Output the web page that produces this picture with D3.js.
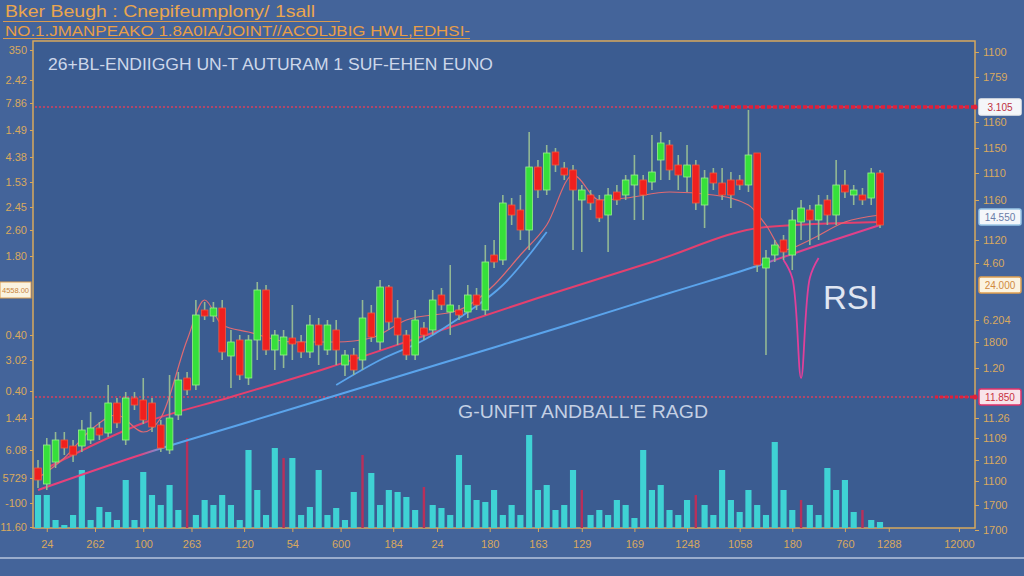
<!DOCTYPE html>
<html lang="en">
<head>
<meta charset="UTF-8">
<title>Candlestick chart</title>
<script src="https://d3js.org/d3.v7.min.js"></script>
<style>
  body { margin: 0; background: #44649a; overflow: hidden; }
  svg { display: block; }
  .axis text { font-family: "Liberation Sans Narrow", "Liberation Sans", Arial, sans-serif; font-size: 11px; fill: #d9a95e; }
  .axis line { stroke: #d7a85c; }
  .axis path { display: none; }
</style>
</head>
<body>
<script>
// candle data (97 sessions)
const opens  = [60,44,66,88,82,82,88,100,95,125, 88,130,128,125,103,78,113,150,143,218, 212,220,172,188,150,188,238,178,173,190, 186,176,203,178,198,163,173,168,215,186, 241,210,193,173,200,198,233,216,218,216, 233,218,273,268,323,318,298,361,338,376, 360,358,328,333,328,313,336,333,343,348, 346,368,383,363,351,363,323,355,345,348, 348,343,375,260,273,288,273,306,318,308, 328,313,343,333,333,330,355];
const closes = [48,83,88,80,73,98,100,93,125,105, 130,123,108,101,80,110,148,138,213,212, 220,176,186,153,188,238,178,193,191,184, 176,203,183,203,178,173,158,210,191,241, 206,193,173,208,193,228,223,223,213,233, 223,266,266,325,313,298,361,338,375,363, 353,338,338,325,310,333,328,348,353,333, 356,385,358,353,363,325,350,345,333,333, 343,373,263,270,283,276,308,320,308,323, 313,343,336,338,328,355,303];
const highs  = [68,90,96,96,88,108,116,106,143,130, 136,136,150,130,108,153,156,156,228,226, 226,228,198,193,193,246,243,198,198,223, 193,213,210,208,208,178,180,228,223,248, 243,228,198,218,206,238,240,263,223,243, 240,283,288,333,330,333,396,368,383,380, 366,363,343,338,333,340,343,353,373,353, 393,396,388,373,383,368,358,360,360,356, 353,418,375,278,288,293,318,328,323,333, 333,368,358,343,340,360,358];
const lows   = [40,38,60,73,66,76,84,88,91,100, 83,118,104,96,76,74,108,133,138,208, 206,168,140,148,143,168,173,158,160,168, 170,170,163,173,163,152,153,158,186,178, 198,183,168,168,188,193,218,193,208,210, 218,213,260,263,303,288,278,330,333,356, 348,278,276,318,306,276,323,328,308,308, 338,348,348,338,336,318,300,338,328,320, 338,336,256,173,266,268,258,288,283,288, 303,303,330,323,323,323,300];

const volumes = [33,33,8,3,13,58,8,21,16,8, 48,8,56,33,23,43,18,90,13,28, 23,33,23,8,78,38,13,80,70,70, 13,21,58,13,20,8,36,73,55,23, 38,36,31,18,41,23,20,13,73,43, 28,26,38,13,23,13,93,38,43,18, 23,58,38,13,18,13,28,23,10,78, 38,43,18,13,28,33,23,13,58,28, 16,38,23,13,86,38,18,28,23,13, 60,38,48,16,18,8,6];
const volRed = [18, 29, 38, 45, 63, 76, 88, 95];

// moving averages as [session, value]
const maLong  = [[1,38],[13,74],[25,106],[37,138],[49,170],[61,202],[73,235],[83,262],[90,283],[97,303]];
const maMid   = [[2,60],[13,105],[23,131],[34,160],[47,198],[58,230],[71,266],[84,301],[97,306]];
const maShort = [[1,50],[4,70],[7,98],[10,113],[13,96],[15,110],[18,188],[20,228],[22,203],[25,196],[30,186],[35,186],[39,190],[43,208],[49,218],[53,243],[56,273],[59,303],[62,353],[65,328],[68,330],[73,336],[78,333],[82,323],[84,303],[86,278],[89,288],[93,306],[97,313]];
const maBlue  = [[35,143],[40,168],[45,188],[50,216],[54,243],[57,273],[59,296]];
const rsiDip  = [[86,268],[87,250],[88,150],[89,250],[90,270]];

const levels = [421, 131];

const leftVals   = [478,448,425,398,371,346,321,298,272,193,168,137,110,78,50,25,1];
const leftLabels = ["350","2.42","7.86","1.49","4.38","1.53","2.45","2.60","1.80","0.40","3.02","0.40","1.44","6.08","5729","-100","11.60"];
const rightVals   = [476,451,406,380,355,328,288,265,208,186,160,110,90,68,47,23,-2];
const rightLabels = ["1100","1759","1160","1150","1110","1160","1120","4.60","6.204","1800","1.20","11.26","1109","1120","1100","1700","1700"];
const bottomIdx    = [2,7.5,13,18.5,24.5,30,35.5,41.5,46.5,52.5,58,63,69,75,81,87,93,98,106];
const bottomLabels = ["24","262","100","263","120","54","600","184","24","180","163","129","169","1248","1058","180","760","1288","12000"];

const rightTags = [
  {v: 421, text: "3.105",  fill: "#f4f6fa", stroke: "#f0f0f0", color: "#c03040"},
  {v: 311, text: "14.550", fill: "#f4f6fa", stroke: "#9cc8e8", color: "#6a7ca8"},
  {v: 243, text: "24.000", fill: "#fbf3e0", stroke: "#e0a050", color: "#d08a40"},
  {v: 131, text: "11.850", fill: "#f8e4ea", stroke: "#e0306a", color: "#c83040"}
];
const leftTag = {v: 238, text: "4558.00"};

const W = 1024, H = 576;
const svg = d3.select("body").append("svg").attr("width", W).attr("height", H);

const x = d3.scaleLinear().domain([1, 97]).range([38, 880]);
const y = d3.scaleLinear().domain([0, 488]).range([528, 40]);
const yVol = d3.scaleLinear().domain([0, 100]).range([528, 428]);
const step = x(2) - x(1);

// titles
svg.append("text").attr("x", 5).attr("y", 17)
  .attr("textLength", 310).attr("lengthAdjust", "spacingAndGlyphs")
  .style("font", "17px 'Liberation Sans', Arial, sans-serif").style("fill", "#eaa64e")
  .text("Bker Beugh : Cnepifeumplony/ 1sall");
svg.append("text").attr("x", 5).attr("y", 36)
  .attr("textLength", 465).attr("lengthAdjust", "spacingAndGlyphs")
  .style("font", "15px 'Liberation Sans', Arial, sans-serif").style("fill", "#e89e48")
  .text("NO.1.JMANPEAKO 1.8A0IA/JOINT//ACOLJBIG HWL,EDHSI-");
svg.append("line").attr("x1", 3).attr("x2", 340).attr("y1", 21.5).attr("y2", 21.5).style("stroke", "#d99a50").style("stroke-width", 1);
svg.append("line").attr("x1", 3).attr("x2", 470).attr("y1", 38.5).attr("y2", 38.5).style("stroke", "#d99a50").style("stroke-width", 1);

// plot frame
svg.append("rect").attr("x", 33).attr("y", 41).attr("width", 942).attr("height", 487)
  .style("fill", "#3b5c91").style("stroke", "#d7a85c").style("stroke-width", 1.5);

svg.append("text").attr("x", 48).attr("y", 70)
  .attr("textLength", 445).attr("lengthAdjust", "spacingAndGlyphs")
  .style("font", "16px 'Liberation Sans', Arial, sans-serif").style("fill", "#cdd7ea")
  .text("26+BL-ENDIIGGH UN-T AUTURAM 1 SUF-EHEN EUNO");

// volume
svg.append("g").selectAll("rect")
  .data(volumes)
  .join("rect")
  .attr("x", (d, i) => volRed.includes(i + 1) ? x(i + 1) - 1.2 : x(i + 1) - step * 0.35)
  .attr("width", (d, i) => volRed.includes(i + 1) ? 2.4 : step * 0.7)
  .attr("y", d => yVol(d))
  .attr("height", d => yVol(0) - yVol(d))
  .style("fill", (d, i) => volRed.includes(i + 1) ? "#b8305a" : "#3fd2d4");

// level lines
svg.append("g").selectAll("line")
  .data(levels)
  .join("line")
  .attr("x1", 35).attr("x2", 975)
  .attr("y1", d => y(d)).attr("y2", d => y(d))
  .style("stroke", "#d8405e").style("stroke-width", 1.5).style("stroke-dasharray", "2,2");
svg.append("line").attr("x1", 713).attr("x2", 975).attr("y1", y(levels[0])).attr("y2", y(levels[0]))
  .style("stroke", "#e0203a").style("stroke-width", 3.5).style("stroke-dasharray", "4,2");
svg.append("line").attr("x1", 935).attr("x2", 975).attr("y1", y(levels[1])).attr("y2", y(levels[1]))
  .style("stroke", "#e0203a").style("stroke-width", 3).style("stroke-dasharray", "3,2");

// moving averages
const line = d3.line().x(d => x(d[0])).y(d => y(d[1])).curve(d3.curveMonotoneX);

const grad = svg.append("defs").append("linearGradient").attr("id", "maGrad")
  .attr("gradientUnits", "userSpaceOnUse").attr("x1", x(1)).attr("x2", x(97)).attr("y1", 0).attr("y2", 0);
[[0, "#e8407a"], [0.12, "#e8407a"], [0.15, "#5aa4ec"], [0.86, "#5aa4ec"], [0.88, "#e0408a"], [1, "#e0408a"]]
  .forEach(s => grad.append("stop").attr("offset", s[0]).attr("stop-color", s[1]));

svg.append("path").datum(maLong).attr("d", line)
  .style("fill", "none").style("stroke", "url(#maGrad)").style("stroke-width", 2);
svg.append("path").datum(maMid).attr("d", line)
  .style("fill", "none").style("stroke", "#e4406e").style("stroke-width", 2);
svg.append("path").datum(maBlue).attr("d", line)
  .style("fill", "none").style("stroke", "#5aa4ec").style("stroke-width", 1.8);
svg.append("path").datum(maShort).attr("d", line)
  .style("fill", "none").style("stroke", "#e06a72").style("stroke-width", 1.2);
svg.append("path").datum(rsiDip).attr("d", d3.line().x(d => x(d[0])).y(d => y(d[1])).curve(d3.curveCatmullRom))
  .style("fill", "none").style("stroke", "#e0409a").style("stroke-width", 1.8);

// candles
const candles = opens.map((o, i) => ({i: i + 1, o, c: closes[i], h: highs[i], l: lows[i]}));
const cg = svg.append("g").selectAll("g").data(candles).join("g");
cg.append("line")
  .attr("x1", d => x(d.i)).attr("x2", d => x(d.i))
  .attr("y1", d => y(d.h)).attr("y2", d => y(d.l))
  .style("stroke", "#93b894").style("stroke-width", 1.6);
cg.append("rect")
  .attr("x", d => x(d.i) - step * 0.38)
  .attr("width", step * 0.76)
  .attr("y", d => y(Math.max(d.o, d.c)))
  .attr("height", d => Math.max(2, Math.abs(y(d.o) - y(d.c))))
  .style("fill", d => d.c >= d.o ? "#36e03a" : "#f0201e")
  .style("stroke", d => d.c >= d.o ? "#9af08a" : "#f05a40")
  .style("stroke-width", 0.8);

// overlay texts
svg.append("text").attr("x", 458).attr("y", 418)
  .attr("textLength", 250).attr("lengthAdjust", "spacingAndGlyphs")
  .style("font", "18px 'Liberation Sans', Arial, sans-serif").style("fill", "#c4d0e4")
  .text("G-UNFIT ANDBALL'E RAGD");
svg.append("text").attr("x", 823).attr("y", 309)
  .attr("textLength", 55).attr("lengthAdjust", "spacingAndGlyphs")
  .style("font", "33px 'Liberation Sans', Arial, sans-serif").style("fill", "#e0e6f2")
  .text("RSI");

// axes
svg.append("g").attr("class", "axis").attr("transform", "translate(33,0)")
  .call(d3.axisLeft(y).tickValues(leftVals).tickFormat((d, i) => leftLabels[i]).tickSize(3).tickPadding(3));
svg.append("g").attr("class", "axis").attr("transform", "translate(975,0)")
  .call(d3.axisRight(y).tickValues(rightVals).tickFormat((d, i) => rightLabels[i]).tickSize(4).tickPadding(4));
svg.append("g").attr("class", "axis").attr("transform", "translate(0,528)")
  .call(d3.axisBottom(x).tickValues(bottomIdx).tickFormat((d, i) => bottomLabels[i]).tickSize(4).tickPadding(8));

// price tags
const tags = svg.append("g").selectAll("g").data(rightTags).join("g")
  .attr("transform", d => `translate(979,${y(d.v)})`);
tags.append("rect").attr("x", 0).attr("y", -8).attr("width", 42).attr("height", 16).attr("rx", 2)
  .style("fill", d => d.fill).style("stroke", d => d.stroke).style("stroke-width", 1.5);
tags.append("text").attr("x", 21).attr("dy", "0.35em").attr("text-anchor", "middle")
  .style("font", "10px 'Liberation Sans Narrow', Arial, sans-serif").style("fill", d => d.color)
  .text(d => d.text);
svg.append("circle").attr("cx", 975).attr("cy", y(levels[0])).attr("r", 2.5).style("fill", "#e0203a");
svg.append("circle").attr("cx", 975).attr("cy", y(levels[1])).attr("r", 2.5).style("fill", "#e0203a");

const lt = svg.append("g").attr("transform", `translate(0,${y(leftTag.v)})`);
lt.append("rect").attr("x", 0).attr("y", -8).attr("width", 31).attr("height", 16)
  .style("fill", "#fbf3e0").style("stroke", "#e0a050").style("stroke-width", 1);
lt.append("text").attr("x", 2).attr("dy", "0.35em")
  .attr("textLength", 27).attr("lengthAdjust", "spacingAndGlyphs")
  .style("font", "8px 'Liberation Sans Narrow', Arial, sans-serif").style("fill", "#c8843a")
  .text(leftTag.text);

// bottom separator
svg.append("line").attr("x1", 0).attr("x2", W).attr("y1", 558).attr("y2", 558)
  .style("stroke", "#9aaccc").style("stroke-width", 2);
</script>
</body>
</html>
